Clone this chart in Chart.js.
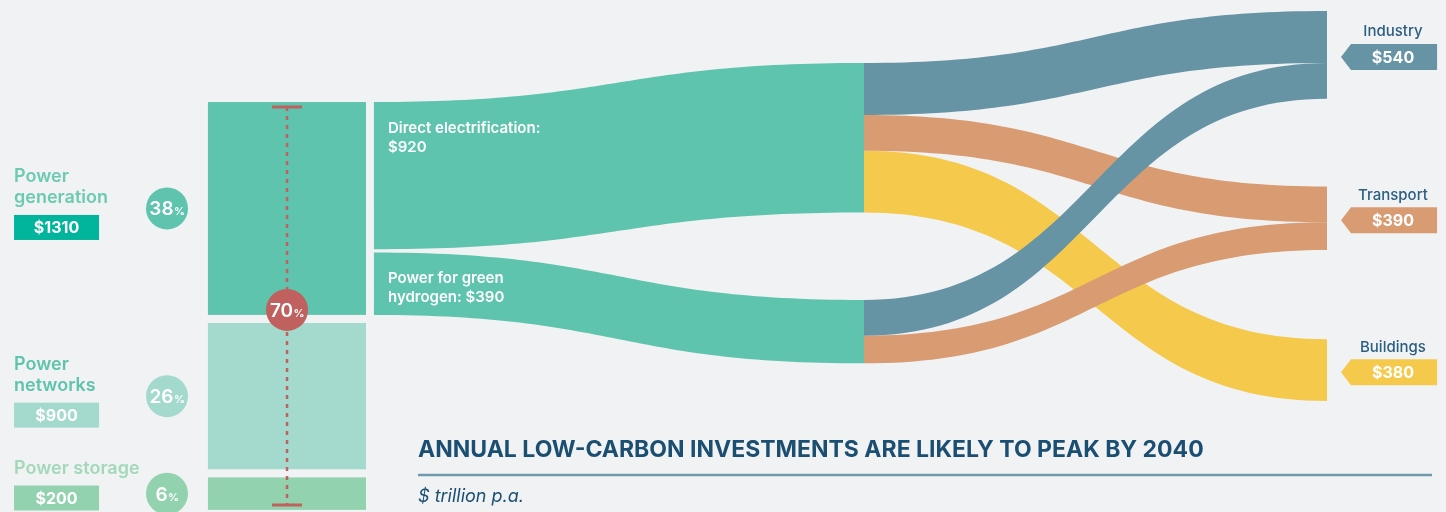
<!DOCTYPE html>
<html>
<head>
<meta charset="utf-8">
<script src="https://cdn.jsdelivr.net/npm/chart.js@4.4.1/dist/chart.umd.min.js"></script>
<style>
  html, body { margin: 0; padding: 0; background: #f1f2f4; }
  #wrap { width: 1446px; height: 512px; position: relative; }
</style>
</head>
<body>
<div id="wrap"><canvas id="chart"></canvas></div>
<script>
// $ trillion p.a.
const stageLabels = [["Power", "generation"], ["Power", "networks"], ["Power storage"]];
const stageValues = [1310, 900, 200];
const stageShares = [38, 26, 6];

const useLabels = [["Direct electrification:", "{v}"], ["Power for green", "hydrogen: {v}"]];
const useValues = [920, 390];

const sectorLabels = ["Industry", "Transport", "Buildings"];
const sectorValues = [540, 390, 380];

// flows from use (0 = direct electrification, 1 = green hydrogen) to sector
const flowSource = [0, 0, 0, 1, 1];
const flowTarget = [0, 1, 2, 0, 1];
const flowValues = [320, 220, 380, 220, 170];

const titleText = "ANNUAL LOW-CARBON INVESTMENTS ARE LIKELY TO PEAK BY 2040";
const subtitleText = "$ trillion p.a.";

// colours
const stageColors = ["#5ec4ae", "#a4dacd", "#93d2ae"];
const stageTextColors = ["#6ccab1", "#5ec4ae", "#a2d9b9"];
const stageBoxColors = ["#00b59b", "#a4dacd", "#93d2ae"];
const sectorColors = ["#6694a4", "#d89b72", "#f5c94c"];
const useColor = "#5ec4ae";
const red = "#c0605f";
const navy = "#1b4f72";

// layout (x in % of width, y in $ units of the value scale)
const col = {
  label: 0.97, boxR: 6.85, circle: 11.55, barL: 14.38, barR: 25.31, dash: 19.85,
  midL: 25.86, midText: 26.83, split: 59.75, end: 91.77,
  sector: 96.33, tagTip: 92.74, tagL: 93.43, tagR: 99.38, title: 28.91, titleR: 99.03
};
const STAGE_GAP = 50;
const USE_GAP_LEFT = 20;
const useTopRight = [-240, 1218];
const sectorTop = [-560, 520, 1460];
const flowOrder = [2, 1, 4, 3, 0];

function band(ctx, x0, x1, a0, a1, b0, b1, color) {
  const xm = (x0 + x1) / 2;
  ctx.beginPath();
  ctx.moveTo(x0, a0);
  ctx.bezierCurveTo(xm, a0, xm, b0, x1, b0);
  ctx.lineTo(x1, b1);
  ctx.bezierCurveTo(xm, b1, xm, a1, x0, a1);
  ctx.closePath();
  ctx.fillStyle = color;
  ctx.fill();
}

function pctBubble(ctx, cx, cy, r, color, num) {
  ctx.beginPath();
  ctx.arc(cx, cy, r, 0, Math.PI * 2);
  ctx.fillStyle = color;
  ctx.fill();
  ctx.fillStyle = "#ffffff";
  ctx.textBaseline = "alphabetic";
  ctx.textAlign = "left";
  const f1 = "600 19px Inter", f2 = "600 11px Inter";
  ctx.font = f1;
  const w1 = ctx.measureText(String(num)).width;
  ctx.font = f2;
  const w2 = ctx.measureText("%").width;
  const sx = cx - (w1 + w2) / 2;
  ctx.font = f1;
  ctx.fillText(String(num), sx, cy + 7);
  ctx.font = f2;
  ctx.fillText("%", sx + w1 + 0.5, cy + 7);
}

const sankeyPlugin = {
  id: "sankeyDraw",
  beforeDatasetsDraw(chart) {
    const {ctx, chartArea, scales: {x, y}} = chart;
    const X = (v) => x.getPixelForValue(v);
    const Y = (v) => y.getPixelForValue(v);
    ctx.save();

    // left stacked column
    const stageStart = [];
    let acc = 0;
    stageValues.forEach((v) => { stageStart.push(acc); acc += v + STAGE_GAP; });
    stageValues.forEach((v, i) => {
      const top = Y(stageStart[i]), bot = Y(stageStart[i] + v);
      ctx.fillStyle = stageColors[i];
      ctx.fillRect(X(col.barL), top, X(col.barR) - X(col.barL), bot - top);

      const cy = (top + bot) / 2;
      pctBubble(ctx, X(col.circle), cy, 21, stageColors[i], stageShares[i]);

      const boxC = Math.min(cy + 19, chartArea.bottom - 14);
      ctx.fillStyle = stageBoxColors[i];
      ctx.fillRect(X(col.label), boxC - 12.5, X(col.boxR) - X(col.label), 25);
      ctx.fillStyle = "#ffffff";
      ctx.font = "700 16px Inter";
      ctx.textAlign = "center";
      ctx.textBaseline = "middle";
      ctx.fillText("$" + v, (X(col.label) + X(col.boxR)) / 2, boxC + 1);

      ctx.fillStyle = stageTextColors[i];
      ctx.font = "600 18px Inter";
      ctx.textAlign = "left";
      const lines = stageLabels[i];
      lines.forEach((t, j) => {
        const ly = boxC - 12.5 - 17 - (lines.length - 1 - j) * 21;
        ctx.fillText(t, X(col.label), ly);
      });
    });

    // middle bands (power generation -> uses)
    const useTotal = useValues.reduce((a, b) => a + b, 0);
    const s = (stageValues[0] - USE_GAP_LEFT * (useValues.length - 1)) / useTotal;
    let la = stageStart[0];
    useValues.forEach((v, i) => {
      const a0 = la, a1 = la + v * s;
      la = a1 + USE_GAP_LEFT;
      const b0 = useTopRight[i], b1 = useTopRight[i] + v;
      band(ctx, X(col.midL), X(col.split), Y(a0), Y(a1), Y(b0), Y(b1), useColor);
      ctx.fillStyle = "#ffffff";
      ctx.font = "600 15px Inter";
      ctx.textAlign = "left";
      ctx.textBaseline = "middle";
      useLabels[i].forEach((t, j) => {
        ctx.fillText(t.replace("{v}", "$" + v), X(col.midText), Y(a0) + 26 + j * 19);
      });
    });

    // right flows (uses -> sectors)
    const srcOff = useTopRight.slice();
    const tgtOff = sectorTop.slice();
    const segs = flowValues.map((v, k) => {
      const sI = flowSource[k], tI = flowTarget[k];
      const seg = {a0: srcOff[sI], a1: srcOff[sI] + v, b0: tgtOff[tI], b1: tgtOff[tI] + v, c: sectorColors[tI]};
      srcOff[sI] += v;
      tgtOff[tI] += v;
      return seg;
    });
    flowOrder.forEach((k) => {
      const g = segs[k];
      band(ctx, X(col.split), X(col.end), Y(g.a0), Y(g.a1), Y(g.b0), Y(g.b1), g.c);
    });

    // sector labels and tags
    sectorValues.forEach((v, i) => {
      const cy = Y(sectorTop[i] + v / 2);
      ctx.fillStyle = "#2b5f80";
      ctx.font = "500 15px Inter";
      ctx.textAlign = "center";
      ctx.textBaseline = "middle";
      ctx.fillText(sectorLabels[i], X(col.sector), cy - 23);
      const tc = cy + 2;
      ctx.beginPath();
      ctx.moveTo(X(col.tagTip), tc);
      ctx.lineTo(X(col.tagL), tc - 13);
      ctx.lineTo(X(col.tagR), tc - 13);
      ctx.lineTo(X(col.tagR), tc + 13);
      ctx.lineTo(X(col.tagL), tc + 13);
      ctx.closePath();
      ctx.fillStyle = sectorColors[i];
      ctx.fill();
      ctx.fillStyle = "#ffffff";
      ctx.font = "700 16px Inter";
      ctx.fillText("$" + v, (X(col.tagL) + X(col.tagR)) / 2 - 1, tc + 1);
    });

    // red dashed range marker
    const top = Y(stageStart[0]) + 5;
    const last = stageValues.length - 1;
    const bot = Y(stageStart[last] + stageValues[last]) - 5;
    const dx = X(col.dash);
    ctx.strokeStyle = red;
    ctx.lineWidth = 2.5;
    ctx.setLineDash([4, 5]);
    ctx.beginPath();
    ctx.moveTo(dx, top);
    ctx.lineTo(dx, bot);
    ctx.stroke();
    ctx.setLineDash([]);
    ctx.lineWidth = 3;
    ctx.beginPath();
    ctx.moveTo(dx - 15, top); ctx.lineTo(dx + 15, top);
    ctx.moveTo(dx - 15, bot); ctx.lineTo(dx + 15, bot);
    ctx.stroke();
    const totalShare = stageShares.reduce((a, b) => a + b, 0);
    pctBubble(ctx, dx, Y(stageStart[0] + stageValues[0]) - 5, 21, red, totalShare);

    // title block
    ctx.fillStyle = navy;
    ctx.textAlign = "left";
    ctx.textBaseline = "middle";
    ctx.font = "700 23px Inter";
    ctx.fillText(titleText, X(col.title), chartArea.bottom - 62);
    ctx.strokeStyle = "#6e9aac";
    ctx.lineWidth = 2.5;
    ctx.beginPath();
    ctx.moveTo(X(col.title), chartArea.bottom - 37);
    ctx.lineTo(X(col.titleR), chartArea.bottom - 37);
    ctx.stroke();
    ctx.font = "italic 400 18px Inter";
    ctx.fillText(subtitleText, X(col.title), chartArea.bottom - 15);

    ctx.restore();
  }
};

new Chart(document.getElementById("chart"), {
  type: "scatter",
  data: {datasets: [{data: [], pointRadius: 0}]},
  options: {
    responsive: true,
    maintainAspectRatio: false,
    animation: false,
    layout: {padding: 0},
    plugins: {legend: {display: false}, tooltip: {enabled: false}},
    scales: {
      x: {type: "linear", min: 0, max: 100, display: false},
      y: {type: "linear", min: -628, max: 2523, reverse: true, display: false}
    }
  },
  plugins: [sankeyPlugin]
});
</script>
</body>
</html>
